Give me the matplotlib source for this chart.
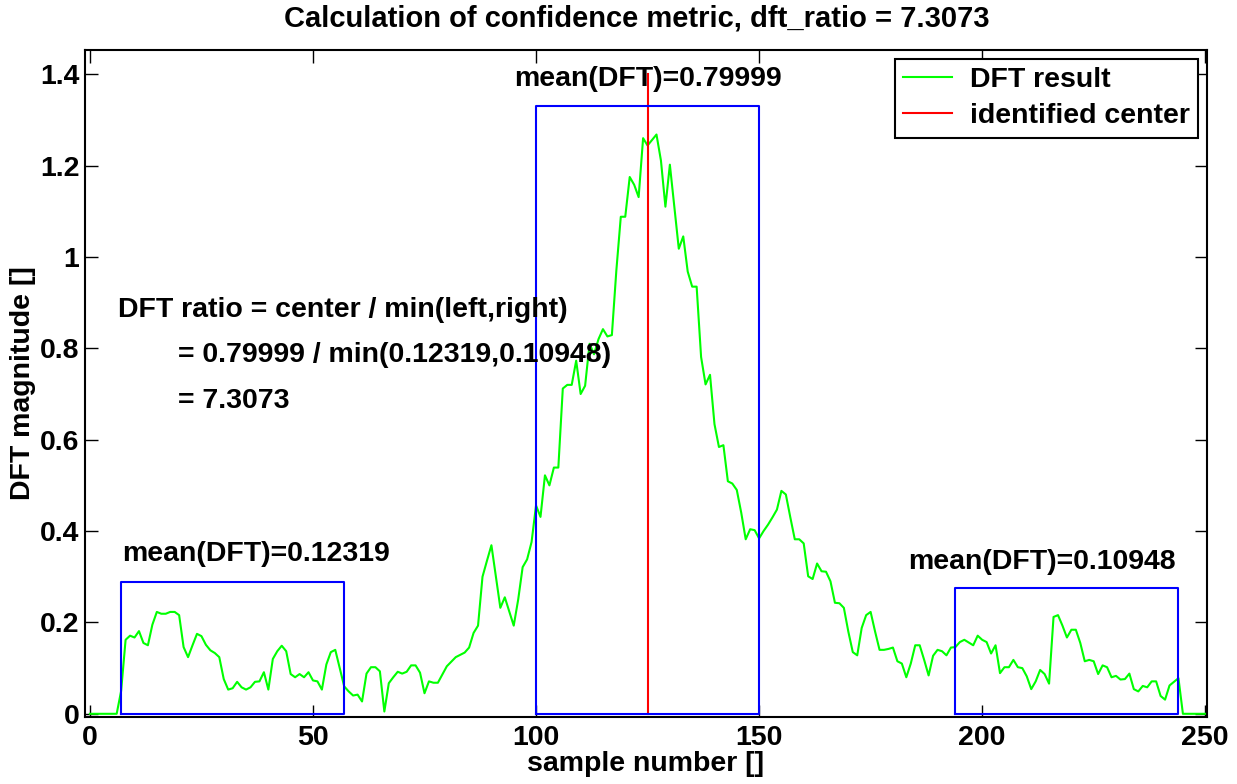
import numpy as np
import matplotlib
matplotlib.use("Agg")
import matplotlib.pyplot as plt

plt.rcParams["font.family"] = ["Liberation Sans", "DejaVu Sans"]
plt.rcParams["font.weight"] = "bold"

# DFT magnitude, one value per sample (0..250)
dft_mag = [
    0, 0, 0, 0, 0, 0, 0, 0.05, 0.162, 0.171,
    0.167, 0.181, 0.155, 0.150, 0.195, 0.223, 0.219, 0.219, 0.223, 0.223,
    0.216, 0.146, 0.124, 0.150, 0.175, 0.170, 0.151, 0.139, 0.133, 0.124,
    0.076, 0.053, 0.056, 0.070, 0.058, 0.053, 0.058, 0.070, 0.071, 0.091,
    0.053, 0.120, 0.137, 0.149, 0.137, 0.087, 0.080, 0.087, 0.080, 0.091,
    0.073, 0.071, 0.053, 0.108, 0.135, 0.140, 0.100, 0.060, 0.049, 0.040,
    0.042, 0.027, 0.088, 0.102, 0.102, 0.093, 0.005, 0.067, 0.080, 0.092,
    0.088, 0.092, 0.106, 0.106, 0.090, 0.045, 0.071, 0.068, 0.068, 0.086,
    0.104, 0.114, 0.124, 0.129, 0.134, 0.145, 0.177, 0.193, 0.300, 0.335,
    0.369, 0.301, 0.232, 0.255, 0.224, 0.193, 0.250, 0.321, 0.338, 0.376,
    0.456, 0.431, 0.522, 0.500, 0.539, 0.539, 0.712, 0.720, 0.720, 0.773,
    0.700, 0.718, 0.810, 0.787, 0.820, 0.842, 0.826, 0.829, 0.970, 1.088,
    1.088, 1.175, 1.158, 1.131, 1.260, 1.244, 1.256, 1.268, 1.211, 1.110,
    1.202, 1.110, 1.018, 1.045, 0.968, 0.935, 0.935, 0.781, 0.721, 0.742,
    0.634, 0.584, 0.588, 0.509, 0.504, 0.490, 0.440, 0.382, 0.404, 0.402,
    0.384, 0.400, 0.414, 0.430, 0.447, 0.488, 0.480, 0.430, 0.382, 0.382,
    0.373, 0.301, 0.295, 0.329, 0.312, 0.311, 0.290, 0.243, 0.242, 0.232,
    0.180, 0.135, 0.128, 0.188, 0.216, 0.223, 0.180, 0.140, 0.140, 0.142,
    0.145, 0.115, 0.110, 0.080, 0.110, 0.150, 0.150, 0.118, 0.084, 0.127,
    0.140, 0.137, 0.128, 0.145, 0.146, 0.157, 0.162, 0.156, 0.150, 0.171,
    0.162, 0.157, 0.132, 0.150, 0.089, 0.102, 0.102, 0.118, 0.102, 0.100,
    0.082, 0.054, 0.071, 0.096, 0.087, 0.066, 0.212, 0.216, 0.193, 0.167,
    0.184, 0.184, 0.155, 0.115, 0.118, 0.115, 0.087, 0.106, 0.102, 0.080,
    0.083, 0.075, 0.076, 0.088, 0.054, 0.049, 0.061, 0.058, 0.071, 0.071,
    0.039, 0.031, 0.062, 0.070, 0.078, 0, 0, 0, 0, 0,
    0,
]
samples = np.arange(len(dft_mag))

center_idx = 125
center_top = 1.4

# left / center / right averaging windows
win_start = [7, 100, 194]
win_end = [57, 150, 244]
win_top = [0.288, 1.330, 0.276]
win_mean = [0.12319, 0.79999, 0.10948]
label_x = [37.3, 125, 213.5]
label_y = [0.335, 1.374, 0.317]

dft_ratio = 7.3073

fs = 20.5
fig = plt.figure(figsize=(12.37, 7.84), dpi=100)
ax = fig.add_axes([85 / 1237, 67 / 784, 1122 / 1237, 667 / 784])

ax.plot(samples, dft_mag, color="#00ff00", lw=1.5, label="DFT result")
ax.plot([center_idx, center_idx], [0, center_top], color="#ff0000", lw=1.5,
        label="identified center")

for x0, x1, top, m, tx, ty in zip(win_start, win_end, win_top, win_mean, label_x, label_y):
    ax.plot([x0, x1, x1, x0, x0], [0, 0, top, top, 0], color="#0000ff", lw=1.5)
    ax.text(tx, ty, "mean(DFT)=%.5g" % m, ha="center", va="baseline",
            fontsize=fs, fontweight="bold")

ax.text(6.3, 0.868, "DFT ratio = center / min(left,right)", fontsize=fs,
        fontweight="bold", va="baseline")
ax.text(19.8, 0.769, "= %.5g / min(%.5g,%.5g)" % (win_mean[1], win_mean[0], win_mean[2]),
        fontsize=fs, fontweight="bold", va="baseline")
ax.text(19.8, 0.669, "= %.5g" % dft_ratio, fontsize=fs, fontweight="bold", va="baseline")

ax.set_xlim(-1.1, 250.4)
ax.set_ylim(-0.007, 1.453)
ax.set_xticks([0, 50, 100, 150, 200, 250])
ax.set_yticks([0, 0.2, 0.4, 0.6, 0.8, 1.0, 1.2, 1.4])
ax.set_yticklabels(["0", "0.2", "0.4", "0.6", "0.8", "1", "1.2", "1.4"])
ax.tick_params(direction="in", length=9, width=1, top=True, right=True,
               labelsize=fs, pad=4)
ax.tick_params(axis="x", pad=6)
for lab in ax.get_xticklabels() + ax.get_yticklabels():
    lab.set_fontweight("bold")
for sp in ax.spines.values():
    sp.set_linewidth(1.5)

ax.set_xlabel("sample number []", fontsize=fs, fontweight="bold", labelpad=0)
ax.set_ylabel("DFT magnitude []", fontsize=fs, fontweight="bold", labelpad=3)
ax.set_title("Calculation of confidence metric, dft_ratio = %.5g" % dft_ratio,
             fontsize=21, fontweight="bold", pad=17, x=0.492)

leg = ax.legend(loc="upper right", fontsize=fs, frameon=True, fancybox=False,
                edgecolor="black", framealpha=1, borderaxespad=0.3,
                handlelength=1.7, handletextpad=0.65, labelspacing=0.35,
                borderpad=0.3)
leg.get_frame().set_linewidth(1.5)
for t in leg.get_texts():
    t.set_fontweight("bold")

fig.savefig("out.png", dpi=100)
